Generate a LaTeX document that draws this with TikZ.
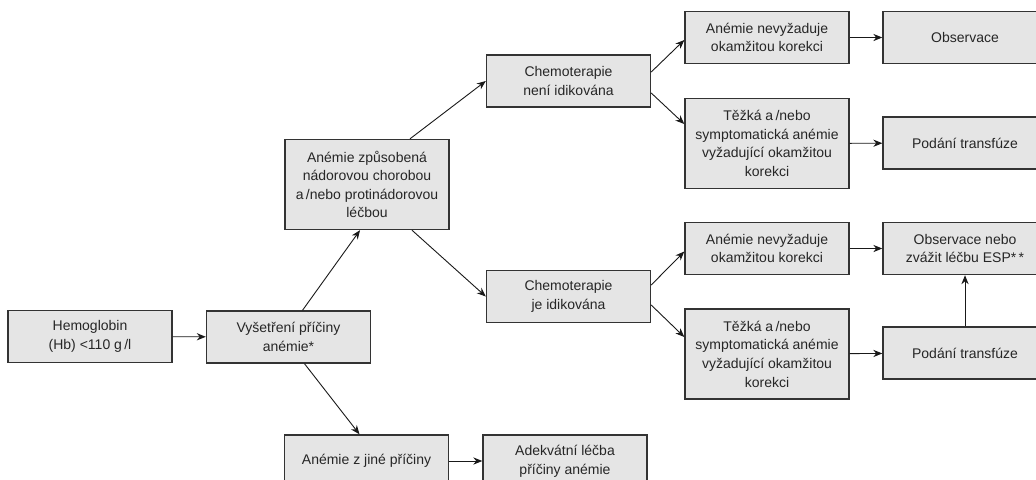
\documentclass[tikz,border=0pt]{standalone}
\usepackage{fontspec}
\setmainfont{Liberation Sans}
\usepackage{tikz}
\usetikzlibrary{positioning,shapes,arrows,arrows.meta}

\tikzset{
  box/.style={draw=black!80, fill=black!10, line width=0.7pt, text=black!85,
    minimum width=82pt, minimum height=26pt, inner sep=0pt, align=center,
    font=\fontsize{7pt}{9.3pt}\selectfont},
  tallbox/.style={box, minimum height=45pt},
  link/.style={->, >={Stealth[length=4.5pt,width=3.6pt]}, line width=0.45pt, black!90}
}

\begin{document}
\begin{tikzpicture}[x=0.5pt, y=-0.5pt]
        \useasboundingbox (0,0) rectangle (1036,479);
        \clip (0,0) rectangle (1036,479);

        % Boxes
        \node[box] (hb) at (90,336.5) {Hemoglobin\\(Hb) <110 g\,/l};
        \node[box] (vys) at (288.5,337) {Vyšetření příčiny\\anémie*};
        \node[tallbox] (zpus) at (367,184.5) {Anémie způsobená\\nádorovou chorobou\\a\,/nebo protinádorovou\\léčbou};
        \node[box] (jine) at (366.5,461) {Anémie z jiné příčiny};
        \node[box] (adek) at (565,461) {Adekvátní léčba\\příčiny anémie};

        \node[box] (nechemo) at (568.5,81) {Chemoterapie\\není idikována};
        \node[box] (jechemo) at (568.5,296.5) {Chemoterapie\\je idikována};

        \node[box] (nevyz1) at (767,37.5) {Anémie nevyžaduje\\okamžitou korekci};
        \node[tallbox] (tezka1) at (767,143.5) {Těžká a\,/nebo\\symptomatická anémie\\vyžadující okamžitou\\korekci};
        \node[box] (obs1) at (965,37.5) {Observace};
        \node[box] (pod1) at (965,143) {Podání transfúze};

        \node[box] (nevyz2) at (767,248.5) {Anémie nevyžaduje\\okamžitou korekci};
        \node[tallbox] (tezka2) at (767,354) {Těžká a\,/nebo\\symptomatická anémie\\vyžadující okamžitou\\korekci};
        \node[box] (obsnebo) at (965,248.5) {Observace nebo\\zvážit léčbu ESP*\,*};
        \node[box] (pod2) at (965,353) {Podání transfúze};

        % Connectors
        \draw[link] (hb) -- (vys);
        \draw[link] ([xshift=7pt]vys.north) -- ([xshift=-3.5pt]zpus.south);
        \draw[link] ([xshift=8pt]vys.south) -- ([xshift=-3.5pt]jine.north);
        \draw[link] (jine) -- (adek);
        \draw[link] ([xshift=21.5pt]zpus.north) -- (nechemo.west);
        \draw[link] ([xshift=22.5pt]zpus.south) -- (jechemo.west);

        \draw[link] ([yshift=4.5pt]nechemo.east) -- ([yshift=-1.25pt]nevyz1.west);
        \draw[link] ([yshift=-6pt]nechemo.east) -- ([yshift=9.75pt]tezka1.west);
        \draw[link] (nevyz1) -- (obs1);
        \draw[link] (tezka1) -- (pod1);

        \draw[link] ([yshift=5.75pt]jechemo.east) -- ([yshift=-1.5pt]nevyz2.west);
        \draw[link] ([yshift=-4.25pt]jechemo.east) -- ([yshift=8.5pt]tezka2.west);
        \draw[link] (nevyz2) -- (obsnebo);
        \draw[link] (tezka2) -- (pod2);
        \draw[link] (pod2) -- (obsnebo);
    \end{tikzpicture}
\end{document}
